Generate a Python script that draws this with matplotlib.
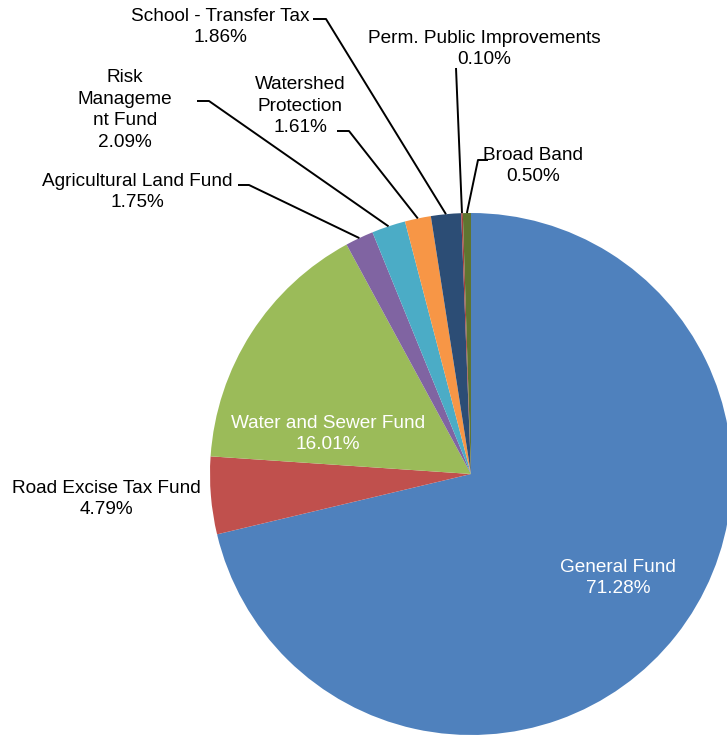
import numpy as np
import matplotlib
matplotlib.use("Agg")
import matplotlib.pyplot as plt

plt.rcParams['font.family'] = ['Liberation Sans', 'DejaVu Sans']

labels = ["General Fund", "Road Excise Tax Fund", "Water and Sewer Fund",
          "Agricultural Land Fund", "Risk\nManageme\nnt Fund", "Watershed\nProtection",
          "School - Transfer Tax", "Perm. Public Improvements", "Broad Band"]
values = [71.28, 4.79, 16.01, 1.75, 2.09, 1.61, 1.86, 0.10, 0.50]
colors = ["#4F81BD", "#C0504D", "#9BBB59", "#8064A2", "#4BACC6", "#F79646",
          "#2C4D75", "#A8403D", "#5F7530"]

# layout (pixel coords, y from top)
W, H = 727, 737
CX, CY, R = 471, 474, 261
text_pos = [(618, 578), (106, 499), (328, 434), (137, 192), (125, 110),
            (300, 106), (220, 27), (484, 49), (533, 166)]
text_col = ["white", "black", "white", "black", "black", "black", "black", "black", "black"]
# leader: list of pixel points from text toward slice (None = no leader)
leaders = [None, None, None,
           [(238, 185), (249, 185)],
           [(197, 101), (209, 101)],
           [(337, 131), (349, 131)],
           [(313, 19), (326, 19)],
           [(456, 68)],
           [(488, 160), (478, 160)]]

fig = plt.figure(figsize=(W / 100, H / 100), dpi=100)
ax = fig.add_axes([0, 0, 1, 1])

def py(y):
    return H - y

ax.pie(values, colors=colors, startangle=90, counterclock=False,
       center=(CX, py(CY)), radius=R, wedgeprops=dict(linewidth=0))

total = sum(values)
cum = 0.0
for i, v in enumerate(values):
    mid = cum + v / 2
    cum += v
    ang = np.deg2rad(90 - 360 * mid / total)
    ex = CX + R * np.cos(ang)
    ey = CY - R * np.sin(ang)
    tx, ty = text_pos[i]
    ax.text(tx, py(ty), f"{labels[i]}\n{v:.2f}%", ha="center", va="center",
            fontsize=13.7, color=text_col[i], linespacing=1.38)
    if leaders[i] is not None:
        pts = leaders[i] + [(ex, ey)]
        xs = [p[0] for p in pts]
        ys = [py(p[1]) for p in pts]
        ax.plot(xs, ys, color="black", lw=1.4, solid_capstyle="butt")

ax.set_xlim(0, W)
ax.set_ylim(0, H)
ax.set_aspect("equal")
ax.axis("off")
fig.savefig("out.png", dpi=100)
